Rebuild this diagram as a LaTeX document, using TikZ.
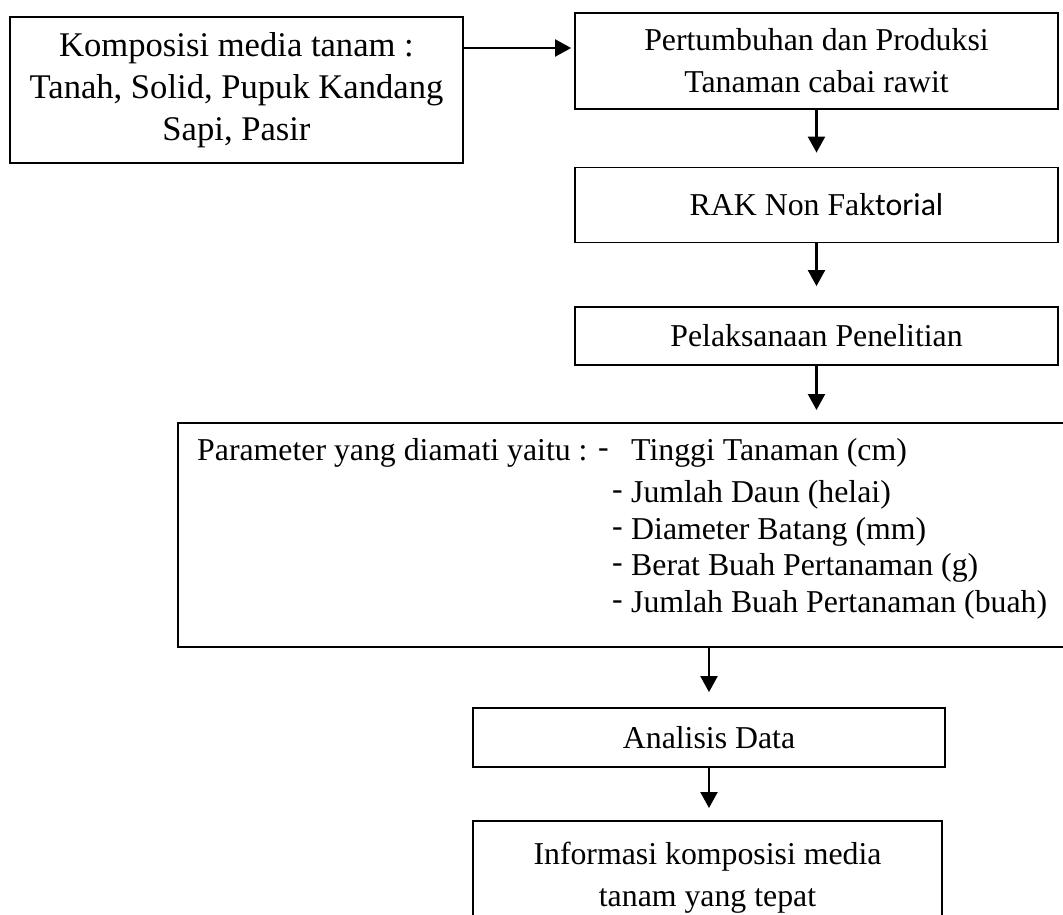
\documentclass[tikz,border=0pt]{standalone}
\usepackage{fontspec}
\setmainfont{Liberation Serif}
\newfontfamily\carlitofont{Carlito}
\usetikzlibrary{arrows.meta, calc}

\tikzset{
  box/.style={draw, line width=1.8pt, inner sep=0pt, align=center},
  flow/.style={-{Triangle[width=17pt,length=16pt]}, line width=2.2pt},
}

\begin{document}
\begin{tikzpicture}[x=1pt, y=-1pt, font=\fontsize{31.8}{42}\selectfont]
    \clip (0,0) rectangle (1063,915);

    % Input box (media composition)
    \node[box, minimum width=453, minimum height=146, font=\fontsize{34.6}{42}\selectfont] (media) at (236.5,90)
        {Komposisi media tanam :\\Tanah, Solid, Pupuk Kandang\\Sapi, Pasir};

    % Main column
    \node[box, minimum width=483, minimum height=96] (growth) at (816.5,61)
        {Pertumbuhan dan Produksi\\Tanaman cabai rawit};
    \node[box, minimum width=483, minimum height=75] (design) at (816.5,205)
        {RAK Non Fak{\carlitofont torial}};
    \node[box, minimum width=483, minimum height=58] (research) at (816.5,336)
        {Pelaksanaan Penelitian};

    % Parameter box with its list
    \node[box, minimum width=893, minimum height=224, anchor=north west] (param) at (177,422) {};
    \node[anchor=west, inner sep=0pt] (paramlbl) at (197,453) {Parameter yang diamati yaitu :};
    \foreach \dx/\y/\txt [count=\i] in {598/453/Tinggi Tanaman (cm), 612/495/Jumlah Daun (helai),
        612/532/Diameter Batang (mm), 612/568/Berat Buah Pertanaman (g),
        612/605/Jumlah Buah Pertanaman (buah)} {
        \node[anchor=west, inner sep=0pt] (dash\i) at (\dx,\y) {-};
        \node[anchor=west, inner sep=0pt] (item\i) at (631,\y) {\txt};
    }

    % Analysis and result
    \node[box, minimum width=472, minimum height=59] (analysis) at (709,737.5) {Analisis Data};
    \node[box, minimum width=469, minimum height=114, anchor=north] (result) at (707.5,820)
        {Informasi komposisi media\\tanam yang tepat};

    % Arrows
    \draw[flow, shorten >=3pt] ([yshift=42pt]media.east) -- ([yshift=42pt]media.east -| growth.west);
    \draw[flow, shorten >=14pt] (growth.south) -- (design.north);
    \draw[flow, shorten >=20pt] (design.south) -- (research.north);
    \draw[flow, shorten >=12pt] (research.south) -- (research.south |- param.north);
    \draw[flow, shorten >=15pt] (analysis.north |- param.south) -- (analysis.north);
    \draw[flow, shorten >=12pt] (analysis.south) -- (analysis.south |- result.north);

\end{tikzpicture}
\end{document}
